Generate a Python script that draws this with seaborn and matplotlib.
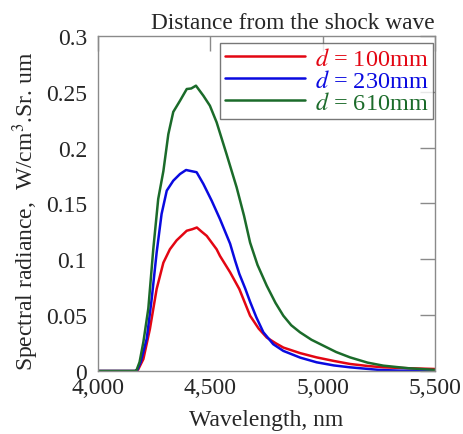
import numpy as np
import pandas as pd
import matplotlib
matplotlib.use("Agg")
import matplotlib.pyplot as plt
import seaborn as sns
from matplotlib.ticker import FuncFormatter

# values
wl_100 = [4000, 4165, 4178, 4202, 4231, 4261, 4291, 4320, 4350, 4395, 4420, 4440, 4460, 4484, 4528,
          4543, 4588, 4629, 4677, 4715, 4751, 4790, 4825, 4900, 4973, 5050, 5122, 5200, 5270, 5380, 5500]
rad_100 = [0.0, 0.0, 0.001, 0.0107, 0.0376, 0.0734, 0.097, 0.109, 0.117, 0.1256, 0.127, 0.1285, 0.125, 0.121, 0.109,
           0.103, 0.0884, 0.0734, 0.0495, 0.038, 0.030, 0.025, 0.021, 0.016, 0.0122, 0.009, 0.0063, 0.0045, 0.0033,
           0.0025, 0.0018]

wl_230 = [4000, 4165, 4175, 4190, 4217, 4239, 4261, 4283, 4306, 4335, 4365, 4392, 4415, 4439, 4469, 4506,
          4543, 4588, 4610, 4629, 4655, 4677, 4705, 4736, 4780, 4825, 4900, 4973, 5050, 5122, 5250, 5344, 5500]
rad_230 = [0.0, 0.0, 0.001, 0.008, 0.029, 0.0645, 0.106, 0.1406, 0.1615, 0.1704, 0.1764, 0.180, 0.179, 0.178,
           0.1675, 0.1525, 0.136, 0.114, 0.099, 0.087, 0.074, 0.062, 0.048, 0.0347, 0.024, 0.018, 0.012, 0.0078,
           0.005, 0.0033, 0.001, 0.0003, 0.0]

wl_610 = [4000, 4165, 4172, 4185, 4202, 4224, 4246, 4268, 4291, 4313, 4335, 4365, 4395, 4415, 4436, 4469,
          4498, 4528, 4572, 4617, 4650, 4677, 4710, 4751, 4790, 4825, 4860, 4899, 4950, 5003, 5060, 5122, 5200,
          5270, 5380, 5500]
rad_610 = [0.0, 0.0, 0.001, 0.008, 0.026, 0.056, 0.109, 0.154, 0.179, 0.212, 0.232, 0.242, 0.2525, 0.253, 0.2555,
           0.2465, 0.2376, 0.2227, 0.1943, 0.1645, 0.139, 0.115, 0.095, 0.0764, 0.061, 0.0495, 0.041, 0.0347,
           0.028, 0.0227, 0.017, 0.0122, 0.0075, 0.0048, 0.0025, 0.001]

labels = ["$d$ = 100mm", "$d$ = 230mm", "$d$ = 610mm"]
colors = ["#e30613", "#0a0ae0", "#1b6b2a"]

x_ticks = [4000, 4500, 5000, 5500]
y_ticks = [0, 0.05, 0.1, 0.15, 0.2, 0.25, 0.3]

df = pd.concat([
    pd.DataFrame({"wl": wl_100, "rad": rad_100, "series": labels[0]}),
    pd.DataFrame({"wl": wl_230, "rad": rad_230, "series": labels[1]}),
    pd.DataFrame({"wl": wl_610, "rad": rad_610, "series": labels[2]}),
])

sns.set_style("white")
plt.rcParams["font.family"] = ["Liberation Serif", "DejaVu Serif"]
plt.rcParams["mathtext.fontset"] = "stix"

fig = plt.figure(figsize=(4.64, 4.35), dpi=100)
ax = fig.add_axes([0.2112, 0.1448, 0.7263, 0.7702])

sns.lineplot(data=df, x="wl", y="rad", hue="series", palette=colors, hue_order=labels,
             linewidth=1.8, sort=False, ax=ax, legend=True)

ax.set_xlim(4000, 5500)
ax.set_ylim(0, 0.3)
ax.set_xticks(x_ticks)
ax.set_yticks(y_ticks)
ax.xaxis.set_major_formatter(FuncFormatter(lambda v, p: f"{int(v):,}"))
ax.yaxis.set_major_formatter(FuncFormatter(lambda v, p: "0" if v == 0 else f"{v:g}"))

gray = "#8a8a8a"
for s in ax.spines.values():
    s.set_color(gray)
    s.set_linewidth(1)
ax.tick_params(direction="in", length=10.5, width=1, color=gray, labelsize=17,
               top=True, right=True)
ax.tick_params(axis="x", pad=4.5)
ax.tick_params(axis="y", pad=8)

ax.set_xlabel("Wavelength, nm", fontsize=17)
ax.set_ylabel("Spectral radiance,  W/cm$^3$.Sr. um", fontsize=17)
ax.xaxis.set_label_coords(0.5, -0.113)
ax.yaxis.set_label_coords(-0.17, 0.48)
ax.set_title("Distance from the shock wave", fontsize=16.8, loc="right", pad=6)

leg = ax.legend(loc="upper right", bbox_to_anchor=(0.994, 0.979), fontsize=17.5, frameon=True,
                fancybox=False, handlelength=3.3, handletextpad=0.4, borderpad=0.2, labelspacing=0.0,
                borderaxespad=0.0, labelcolor="linecolor")
leg.get_frame().set_edgecolor("#555555")
leg.get_frame().set_linewidth(1)

fig.savefig("out.png", dpi=100)
